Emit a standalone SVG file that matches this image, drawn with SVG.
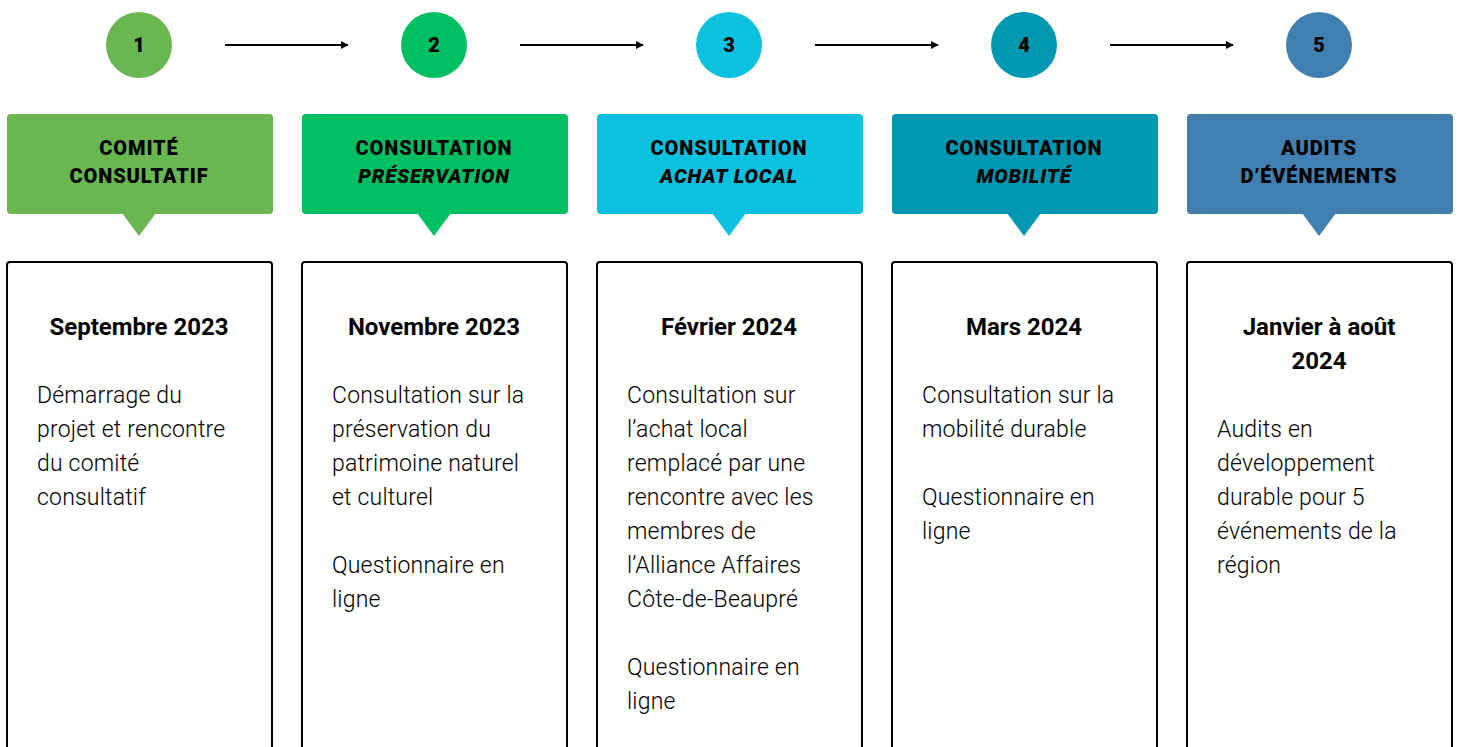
<svg xmlns="http://www.w3.org/2000/svg" width="1458" height="747" viewBox="0 0 1458 747">
<style>
.num{font-family:Roboto,"Liberation Sans",sans-serif;font-weight:900;font-size:20px;fill:#000;text-anchor:middle}
.hd{font-family:Roboto,"Liberation Sans",sans-serif;font-weight:900;font-size:20px;fill:#000;text-anchor:middle;letter-spacing:0.9px}
.it{font-style:italic}
.date{font-family:Roboto,"Liberation Sans",sans-serif;font-weight:700;font-size:24px;fill:#000;text-anchor:middle}
.body{font-family:Roboto,"Liberation Sans",sans-serif;font-weight:300;font-size:23px;fill:#000;letter-spacing:0.2px}
.card{fill:#fff;stroke:#000;stroke-width:2}
.conn{stroke:#000;stroke-width:2;fill:none}
</style>
<defs>
<marker id="ah" viewBox="0 0 10 10" refX="9" refY="5" markerWidth="4" markerHeight="4" orient="auto" markerUnits="strokeWidth">
<path d="M0,0 L10,5 L0,10 z" fill="#000"/>
</marker>
</defs>
<rect width="1458" height="747" fill="#fff"/>
<g id="connectors">
<line class="conn" x1="225" y1="45" x2="348" y2="45" marker-end="url(#ah)"/>
<line class="conn" x1="520" y1="45" x2="643" y2="45" marker-end="url(#ah)"/>
<line class="conn" x1="815" y1="45" x2="938" y2="45" marker-end="url(#ah)"/>
<line class="conn" x1="1110" y1="45" x2="1233" y2="45" marker-end="url(#ah)"/>
</g>
<g id="step1">
<circle cx="139" cy="45" r="33" fill="#6ab651"/>
<text class="num" x="139" y="52">1</text>
<rect x="7" y="114" width="266" height="100" rx="4" fill="#6ab651"/>
<path d="M122,213 L156,213 L139,236 z" fill="#6ab651"/>
<text class="hd" x="139" y="155">COMITÉ</text>
<text class="hd" x="139" y="183">CONSULTATIF</text>
<rect class="card" x="7" y="262" width="265" height="500" rx="3"/>
<text class="date" x="139" y="335">Septembre 2023</text>
<text class="body" x="37" y="403">Démarrage du</text>
<text class="body" x="37" y="437">projet et rencontre</text>
<text class="body" x="37" y="471">du comité</text>
<text class="body" x="37" y="505">consultatif</text>
</g>
<g id="step2">
<circle cx="434" cy="45" r="33" fill="#00bf63"/>
<text class="num" x="434" y="52">2</text>
<rect x="302" y="114" width="266" height="100" rx="4" fill="#00bf63"/>
<path d="M417,213 L451,213 L434,236 z" fill="#00bf63"/>
<text class="hd" x="434" y="155">CONSULTATION</text>
<text class="hd it" x="434" y="183">PRÉSERVATION</text>
<rect class="card" x="302" y="262" width="265" height="500" rx="3"/>
<text class="date" x="434" y="335">Novembre 2023</text>
<text class="body" x="332" y="403">Consultation sur la</text>
<text class="body" x="332" y="437">préservation du</text>
<text class="body" x="332" y="471">patrimoine naturel</text>
<text class="body" x="332" y="505">et culturel</text>
<text class="body" x="332" y="573">Questionnaire en</text>
<text class="body" x="332" y="607">ligne</text>
</g>
<g id="step3">
<circle cx="729" cy="45" r="33" fill="#0cc0df"/>
<text class="num" x="729" y="52">3</text>
<rect x="597" y="114" width="266" height="100" rx="4" fill="#0cc0df"/>
<path d="M712,213 L746,213 L729,236 z" fill="#0cc0df"/>
<text class="hd" x="729" y="155">CONSULTATION</text>
<text class="hd it" x="729" y="183">ACHAT LOCAL</text>
<rect class="card" x="597" y="262" width="265" height="500" rx="3"/>
<text class="date" x="729" y="335">Février 2024</text>
<text class="body" x="627" y="403">Consultation sur</text>
<text class="body" x="627" y="437">l’achat local</text>
<text class="body" x="627" y="471">remplacé par une</text>
<text class="body" x="627" y="505">rencontre avec les</text>
<text class="body" x="627" y="539">membres de</text>
<text class="body" x="627" y="573">l’Alliance Affaires</text>
<text class="body" x="627" y="607">Côte-de-Beaupré</text>
<text class="body" x="627" y="675">Questionnaire en</text>
<text class="body" x="627" y="709">ligne</text>
</g>
<g id="step4">
<circle cx="1024" cy="45" r="33" fill="#0097b2"/>
<text class="num" x="1024" y="52">4</text>
<rect x="892" y="114" width="266" height="100" rx="4" fill="#0097b2"/>
<path d="M1007,213 L1041,213 L1024,236 z" fill="#0097b2"/>
<text class="hd" x="1024" y="155">CONSULTATION</text>
<text class="hd it" x="1024" y="183">MOBILITÉ</text>
<rect class="card" x="892" y="262" width="265" height="500" rx="3"/>
<text class="date" x="1024" y="335">Mars 2024</text>
<text class="body" x="922" y="403">Consultation sur la</text>
<text class="body" x="922" y="437">mobilité durable</text>
<text class="body" x="922" y="505">Questionnaire en</text>
<text class="body" x="922" y="539">ligne</text>
</g>
<g id="step5">
<circle cx="1319" cy="45" r="33" fill="#417fb0"/>
<text class="num" x="1319" y="52">5</text>
<rect x="1187" y="114" width="266" height="100" rx="4" fill="#417fb0"/>
<path d="M1302,213 L1336,213 L1319,236 z" fill="#417fb0"/>
<text class="hd" x="1319" y="155">AUDITS</text>
<text class="hd" x="1319" y="183">D’ÉVÉNEMENTS</text>
<rect class="card" x="1187" y="262" width="265" height="500" rx="3"/>
<text class="date" x="1319" y="335">Janvier à août</text>
<text class="date" x="1319" y="369">2024</text>
<text class="body" x="1217" y="437">Audits en</text>
<text class="body" x="1217" y="471">développement</text>
<text class="body" x="1217" y="505">durable pour 5</text>
<text class="body" x="1217" y="539">événements de la</text>
<text class="body" x="1217" y="573">région</text>
</g>
</svg>
